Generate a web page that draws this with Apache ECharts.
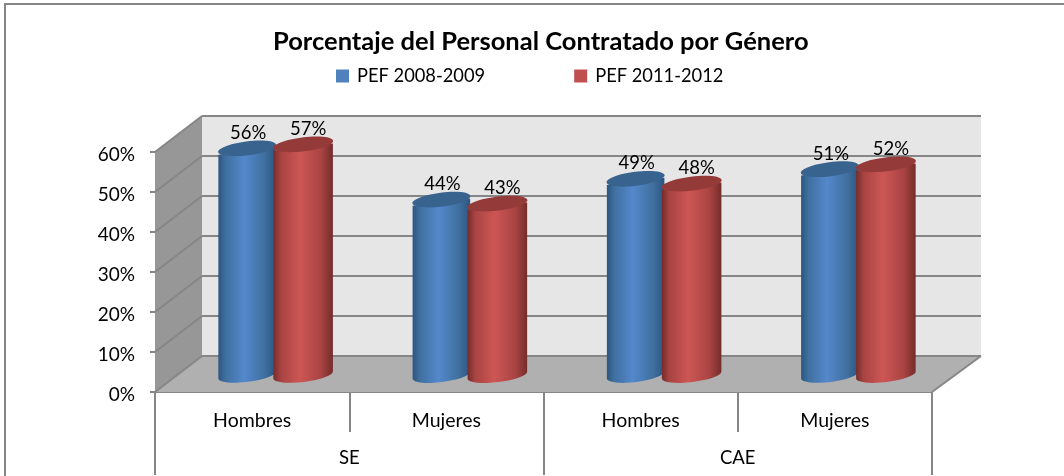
<!DOCTYPE html>
<html>
<head>
<meta charset="utf-8">
<style>html,body{margin:0;padding:0;background:#fff}#c{width:1064px;height:476px}</style>
<script src="https://cdn.jsdelivr.net/npm/echarts@6/dist/echarts.min.js"></script>
</head>
<body>
<div id="c"></div>
<script>
const subCategories = ['Hombres', 'Mujeres', 'Hombres', 'Mujeres'];
const groups = ['SE', 'CAE'];
const seriesNames = ['PEF 2008-2009', 'PEF 2011-2012'];
const pef0809 = [56.4, 43.6, 48.8, 51.2];
const pef1112 = [57.4, 42.6, 47.6, 52.4];

const FONT = 'Lato, "Open Sans", sans-serif';
const DX = 47, DXR = 49, DY = -36;
const AXIS = '#868686';

const chart = echarts.init(document.getElementById('c'), null, { renderer: 'canvas' });

function renderWalls(params, api) {
  const cs = params.coordSys;
  const x0 = cs.x, x1 = cs.x + cs.width;
  const base = api.coord([0, 0])[1];
  const top = api.coord([0, 60])[1];
  const line = (a, b, c, d, w) => ({ type: 'line', shape: { x1: a, y1: b, x2: c, y2: d }, style: { stroke: AXIS, lineWidth: w || 2 } });
  const ch = [
    { type: 'polygon', shape: { points: [[x0 + DX, top + DY], [x1 + DXR, top + DY], [x1 + DXR, base + DY], [x0 + DX, base + DY]] }, style: { fill: '#e6e6e6' } },
    { type: 'polygon', shape: { points: [[x0, top], [x0 + DX, top + DY], [x0 + DX, base + DY], [x0, base]] }, style: { fill: '#979797' } },
    { type: 'polygon', shape: { points: [[x0, base], [x0 + DX, base + DY], [x1 + DXR, base + DY], [x1, base]] }, style: { fill: '#b0b0b0' } }
  ];
  for (let v = 0; v <= 60; v += 10) {
    const y = api.coord([0, v])[1];
    ch.push(line(x0 + DX, y + DY, x1 + DXR, y + DY));
    ch.push(line(x0, y, x0 + DX, y + DY));
  }
  ch.push(line(x1, base, x1 + DXR, base + DY));
  return { type: 'group', children: ch };
}

function cylinder(pal, side) {
  return function (params, api) {
    const idx = api.value(0), val = api.value(1);
    const pTop = api.coord([idx, val]);
    const pBase = api.coord([idx, 0]);
    const a = side < 0 ? 29 : 30, tilt = 3.7, b = 7;
    const cx = pTop[0] + DX / 2 + (side < 0 ? -28.5 : 27.5);
    const cyT = pTop[1] + DY / 2;
    const cyB = pBase[1] + DY / 2;
    const rot = Math.atan2(tilt, a);
    const ra = Math.hypot(a, tilt);
    const body = 'M' + (cx - a) + ' ' + (cyT + tilt) +
      ' L' + (cx + a) + ' ' + (cyT - tilt) +
      ' L' + (cx + a) + ' ' + (cyB - tilt) +
      ' A' + ra + ' ' + b + ' ' + (-rot * 180 / Math.PI) + ' 0 1 ' + (cx - a) + ' ' + (cyB + tilt) + ' Z';
    const grad = {
      type: 'linear', x: 0, y: 0, x2: 1, y2: 0,
      colorStops: [
        { offset: 0, color: pal[0] }, { offset: 0.13, color: pal[1] }, { offset: 0.45, color: pal[2] },
        { offset: 0.8, color: pal[1] }, { offset: 1, color: pal[0] }
      ]
    };
    return {
      type: 'group',
      children: [
        { type: 'path', shape: { pathData: body, x: cx - a, y: cyT - tilt, width: 2 * a, height: cyB - cyT + 2 * tilt + b }, style: { fill: grad } },
        { type: 'ellipse', shape: { cx: 0, cy: 0, rx: ra, ry: b }, x: cx, y: cyT, rotation: rot, style: { fill: pal[3] } },
        { type: 'text', x: cx + (side < 0 ? 1 : 5), y: cyT - 15.5, style: { text: Math.round(val) + '%', fill: '#000', font: '18.5px ' + FONT, align: 'center', verticalAlign: 'middle' } }
      ]
    };
  };
}

const toData = arr => arr.map((v, i) => [i, v]);

chart.setOption({
  animation: false,
  backgroundColor: '#fff',
  title: {
    text: 'Porcentaje del Personal Contratado por Género',
    left: 273, top: 29, padding: 0,
    textStyle: { fontFamily: FONT, fontSize: 25.5, fontWeight: 'bold', color: '#000' }
  },
  legend: {
    data: seriesNames, left: 336, top: 67, itemWidth: 13, itemHeight: 13, itemGap: 89, padding: 0,
    textStyle: { fontFamily: FONT, fontSize: 18.3, color: '#000', padding: [0, 0, 0, 3] },
    icon: 'rect'
  },
  grid: { left: 155, right: 132, top: 152, bottom: 84 },
  xAxis: [
    {
      type: 'category', data: subCategories, position: 'bottom',
      axisLine: { lineStyle: { color: AXIS, width: 2 } },
      axisTick: { show: true, alignWithLabel: false, length: 40, lineStyle: { color: AXIS, width: 2 } },
      axisLabel: { color: '#000', fontFamily: FONT, fontSize: 19.5, margin: 19 },
      splitLine: { show: false }
    },
    {
      type: 'category', data: groups, position: 'bottom',
      axisLine: { show: false },
      axisTick: { show: true, alignWithLabel: false, length: 83, lineStyle: { color: AXIS, width: 2 } },
      axisLabel: { color: '#000', fontFamily: FONT, fontSize: 18.5, margin: 57 },
      splitLine: { show: false }
    }
  ],
  yAxis: {
    type: 'value', min: 0, max: 60, interval: 10,
    axisLine: { show: false },
    axisTick: { show: true, length: 5, lineStyle: { color: AXIS, width: 2 } },
    axisLabel: { formatter: '{value}%', color: '#000', fontFamily: FONT, fontSize: 19, margin: 20, verticalAlign: 'top', lineHeight: 5 },
    splitLine: { show: false }
  },
  series: [
    { type: 'custom', name: 'walls', silent: true, z: 1, data: [[0, 0]], renderItem: renderWalls, encode: { x: 0, y: 1 } },
    { type: 'custom', name: seriesNames[0], z: 3, itemStyle: { color: '#4f81bd', borderColor: '#3a6496' },
      data: toData(pef0809), encode: { x: 0, y: 1 }, renderItem: cylinder(['#2c5480', '#40709f', '#5388cc', '#39638f'], -1) },
    { type: 'custom', name: seriesNames[1], z: 4, itemStyle: { color: '#c0504d', borderColor: '#8e3a38' },
      data: toData(pef1112), encode: { x: 0, y: 1 }, renderItem: cylinder(['#732c2b', '#a84442', '#cd5654', '#943b39'], 1) }
  ],
  graphic: [
    { type: 'rect', silent: true, z: 100, shape: { x: 5, y: 4, width: 1100, height: 520 }, style: { fill: 'none', stroke: '#868686', lineWidth: 2 } }
  ]
});
</script>
</body>
</html>
